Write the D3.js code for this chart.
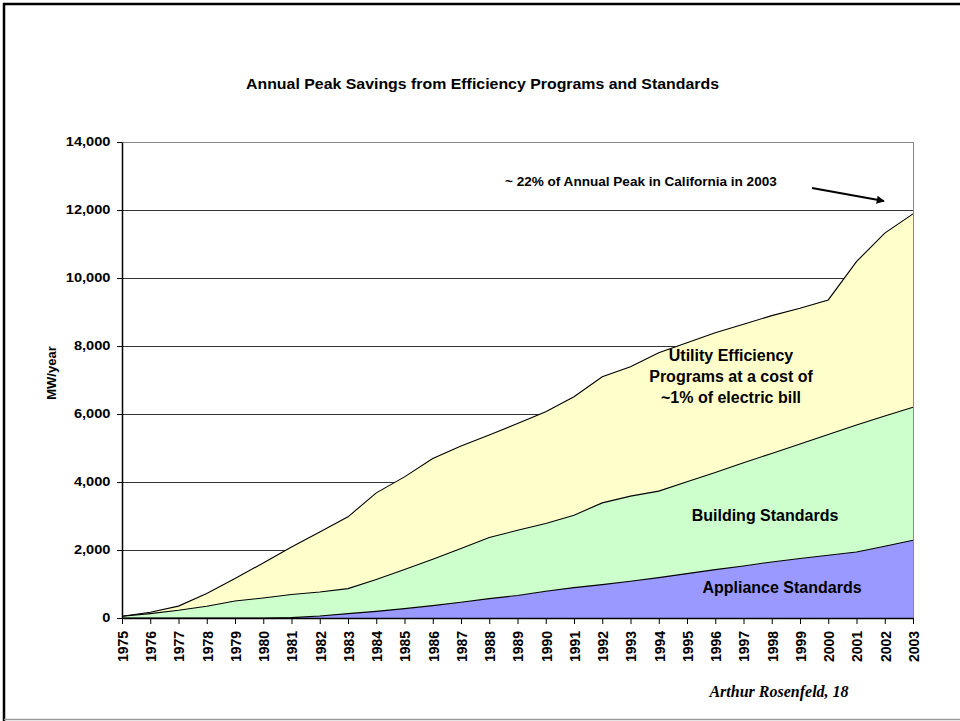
<!DOCTYPE html>
<html><head><meta charset="utf-8">
<script src="https://cdn.jsdelivr.net/npm/d3@7"></script>
<style>body{margin:0;background:#fff}svg{display:block}</style>
</head><body>
<script>
const years = d3.range(1975, 2004);
const appliance = [0,0,0,0,0,0,10,60,130,196,275,363,461,569,662,785,894,982,1080,1188,1306,1424,1531,1649,1748,1845,1943,2110,2288];
const building  = [50,130,226,344,500,590,680,705,735,934,1150,1365,1582,1798,1918,1995,2130,2404,2504,2543,2699,2857,3033,3191,3367,3555,3731,3830,3908];
const utility   = [0,40,124,376,660,1030,1400,1765,2110,2550,2725,2962,3017,3013,3140,3286,3484,3711,3807,4072,4093,4111,4076,4053,3995,3955,4809,5379,5691];
const seriesNames = ["Appliance Standards","Building Standards","Utility Efficiency"];
const seriesColors = ["#9999FF","#CCFFCC","#FFFFCC"];
const yTicks = [0,2000,4000,6000,8000,10000,12000,14000];

const W=960,H=721;
const F="Arial, 'Liberation Sans', sans-serif";
const svg=d3.select("body").append("svg").attr("width",W).attr("height",H);
svg.append("rect").attr("width",W).attr("height",H).attr("fill","#fff");
// frame
svg.append("line").attr("x1",3).attr("x2",W).attr("y1",4).attr("y2",4).attr("stroke","#000").attr("stroke-width",2.5);
svg.append("line").attr("x1",4).attr("x2",4).attr("y1",3).attr("y2",H).attr("stroke","#000").attr("stroke-width",2.5);
svg.append("line").attr("x1",4).attr("x2",W).attr("y1",719.5).attr("y2",719.5).attr("stroke","#999").attr("stroke-width",1.5);

const L=122,R=913,T=142,B=618;
const x=d3.scaleLinear().domain([1975,2003]).range([L,R]);
const y=d3.scaleLinear().domain([0,14000]).range([B,T]);

const data=years.map((yr,i)=>({year:yr,a:appliance[i],b:building[i],u:utility[i]}));
const stack=d3.stack().keys(["a","b","u"])(data);

// gridlines
svg.append("g").selectAll("line").data(yTicks.filter(d=>d>0)).join("line")
  .attr("x1",L).attr("x2",R).attr("y1",d=>Math.round(y(d))+0.5).attr("y2",d=>Math.round(y(d))+0.5)
  .attr("stroke",(d)=>d===14000?"#888":"#333").attr("stroke-width",1);
svg.append("line").attr("x1",R+0.5).attr("x2",R+0.5).attr("y1",T).attr("y2",B).attr("stroke","#888");

const area=d3.area().x(d=>x(d.data.year)).y0(d=>y(d[0])).y1(d=>y(d[1]));
const line=d3.line().x(d=>x(d.data.year)).y(d=>y(d[1]));
svg.append("g").selectAll("path").data(stack).join("path")
  .attr("d",area).attr("fill",(d,i)=>seriesColors[i]);
svg.append("g").selectAll("path").data(stack).join("path")
  .attr("d",line).attr("fill","none").attr("stroke","#000").attr("stroke-width",1.1);

// axes
const yAxis=d3.axisLeft(y).tickValues(yTicks).tickFormat(d3.format(",")).tickSize(5).tickSizeOuter(0);
const gy=svg.append("g").attr("transform",`translate(${L},0)`).call(yAxis);
const ysx=1.22;
gy.selectAll("text").attr("font-family",F).attr("font-weight","bold").attr("font-size",12).attr("fill","#000")
  .attr("x",-11.5/ysx).attr("transform",`scale(${ysx},1)`);
gy.select(".domain").attr("stroke","#000").attr("stroke-width",1.5);
gy.selectAll(".tick line").attr("stroke","#000");

const xAxis=d3.axisBottom(x).tickValues(years).tickFormat(d=>d).tickSize(6).tickSizeOuter(0);
const gx=svg.append("g").attr("transform",`translate(0,${B})`).call(xAxis);
gx.select(".domain").attr("stroke","#000").attr("stroke-width",1.5);
gx.selectAll(".tick line").attr("stroke","#000");
gx.selectAll("text").attr("font-family",F).attr("font-weight","bold").attr("font-size",14).attr("fill","#000")
  .attr("transform","scale(1.1,1) rotate(-90)").attr("text-anchor","end").attr("x",-13).attr("y",0).attr("dy","0.35em");

function txt(s,cx,cy,size,sx,opts={}){
  const t=svg.append("text").attr("transform",`translate(${cx},${cy}) scale(${sx},1)`+(opts.rot?` rotate(${opts.rot})`:""))
    .attr("text-anchor",opts.anchor||"middle").attr("font-family",opts.family||F)
    .attr("font-weight","bold").attr("font-size",size).text(s);
  if(opts.italic) t.attr("font-style","italic");
  return t;
}
txt("Annual Peak Savings from Efficiency Programs and Standards",482.5,89,15,1.06);
txt("MW/year",56,373,13,1,{rot:-90});
txt("~  22% of Annual Peak in California in 2003",505,185.5,12,1.13,{anchor:"start"});

svg.append("defs").append("marker").attr("id","ah").attr("viewBox","0 0 10 10").attr("refX",9).attr("refY",5)
  .attr("markerWidth",5).attr("markerHeight",4).attr("orient","auto").append("path").attr("d","M0,0L10,5L0,10z").attr("fill","#000");
svg.append("line").attr("x1",812).attr("y1",188).attr("x2",884).attr("y2",201).attr("stroke","#000").attr("stroke-width",2).attr("marker-end","url(#ah)");

txt("Utility Efficiency",731,361,16,1);
txt("Programs at a cost of",731,382,16,1);
txt("~1% of electric bill",731,403,16,1);
txt("Building Standards",765,521,16,1);
txt("Appliance Standards",782,593,16,1);

txt("Arthur Rosenfeld, 18",779,697,16,1,{family:"'Liberation Serif','Times New Roman',serif",italic:true});
</script>
</body></html>
